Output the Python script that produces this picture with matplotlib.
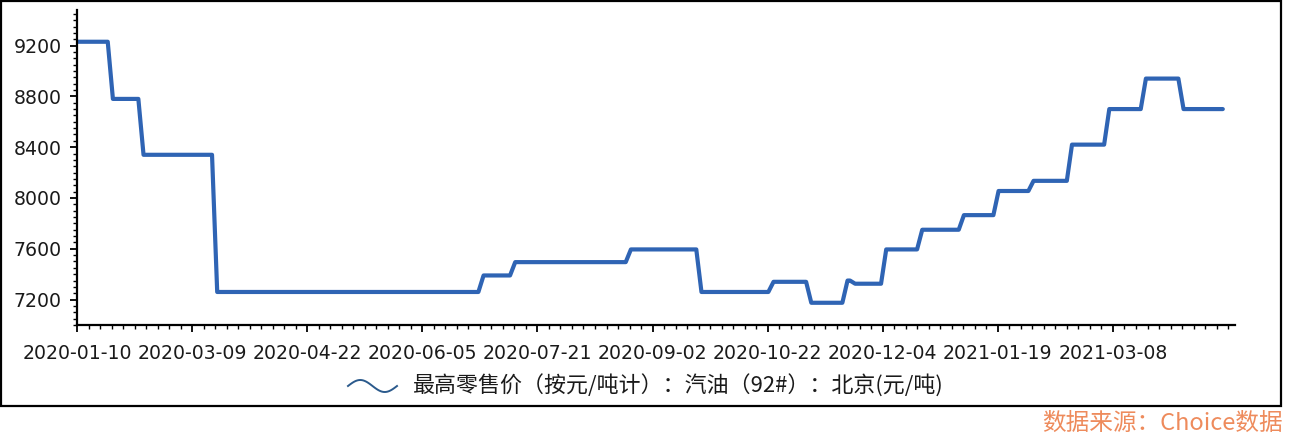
# -*- coding: utf-8 -*-
# 北京92#汽油最高零售价走势（2020-01 ~ 2021-03）

import numpy as np
import matplotlib
matplotlib.use('Agg')
import matplotlib.pyplot as plt
from matplotlib.ticker import MultipleLocator, FixedLocator
from matplotlib.patches import Rectangle
from matplotlib.lines import Line2D
from matplotlib import rcParams

config = {
    "font.family": ['DejaVu Sans', 'Noto Sans CJK SC'],
    "font.size": 13,
    "axes.unicode_minus": False,
}
rcParams.update(config)

# ---------------- 数据 ----------------
# 横轴按序号排列，刻度标签每10个序号一个
tick_labels = ['2020-01-10', '2020-03-09', '2020-04-22', '2020-06-05', '2020-07-21',
               '2020-09-02', '2020-10-22', '2020-12-04', '2021-01-19', '2021-03-08']
tick_pos = [0, 10, 20, 30, 40, 50, 60, 70, 80, 90]

start_price = 9230          # 起始价格 (元/吨)
# 每次调价的位置（序号）和调价后的价格
chg_pos = [2.67, 5.33, 11.73, 34.87, 37.62, 47.67, 53.80, 60.06, 63.34, 66.49,
           67.15, 69.85, 72.98, 76.60, 79.61, 82.65, 85.99, 89.23, 92.41, 95.68]
chg_price = [8780, 8340, 7260, 7390, 7495, 7595, 7260, 7340, 7175, 7350,
             7325, 7595, 7750, 7865, 8055, 8135, 8420, 8700, 8940, 8700]
end_pos = 99.54

series_name = '最高零售价（按元/吨计）：汽油（92#）：北京(元/吨)'
source_text = '数据来源：Choice数据'

line_color = '#2f64b4'

# 把调价点展开成折线顶点（每次调价约0.45个序号内完成）
ramp = 0.45
xs = [0]
ys = [start_price]
for p, v in zip(chg_pos, chg_price):
    prev = ys[-1]
    xs += [p, p + ramp]
    ys += [prev, v]
xs.append(end_pos)
ys.append(ys[-1])

# ---------------- 画图 ----------------
W, H = 1290, 438
fig = plt.figure(figsize=(W / 100, H / 100), dpi=100, facecolor='white')
ax = fig.add_axes([77 / W, 1 - 325 / H, (1235 - 77) / W, (325 - 10) / H])
ax.set_facecolor('none')

ax.plot(xs, ys, color=line_color, lw=3.0, solid_joinstyle='round',
        solid_capstyle='round')

ax.set_xlim(0, 100.6)
ax.set_ylim(7000, 9480)

ax.xaxis.set_major_locator(FixedLocator(tick_pos))
ax.set_xticklabels(tick_labels)
ax.xaxis.set_minor_locator(MultipleLocator(1))
ax.yaxis.set_major_locator(FixedLocator(np.arange(7200, 9201, 400)))
ax.yaxis.set_minor_locator(MultipleLocator(50))

for s in ['top', 'right']:
    ax.spines[s].set_visible(False)
for s in ['left', 'bottom']:
    ax.spines[s].set_linewidth(1.6)
    ax.spines[s].set_color('black')

ax.tick_params(axis='both', which='major', direction='out', length=5, width=1.3,
               colors='black', labelcolor='#1a1a1a', labelsize=13.6)
ax.tick_params(axis='both', which='minor', direction='out', length=3, width=1.0,
               colors='black')
ax.tick_params(axis='x', which='major', pad=9)
ax.tick_params(axis='y', which='major', pad=6)

# 图例（波浪线 + 文字）
t = np.linspace(0, 2 * np.pi, 80)
wx = (348 + 49 * t / (2 * np.pi)) / W
wy = 1 - (386 - 6 * np.sin(t)) / H
fig.add_artist(Line2D(wx, wy, color='#2b5a8c', lw=1.4, transform=fig.transFigure))
fig.text(413 / W, 1 - 386 / H, series_name, fontsize=15.8, va='center', ha='left',
         color='#1a1a1a', family=['Noto Sans CJK SC', 'DejaVu Sans'])

# 外框
fig.add_artist(Rectangle((1 / W, 1 - 406 / H), 1280 / W, 405 / H, fill=False,
                         edgecolor='black', lw=1.6, transform=fig.transFigure))

# 数据来源
fig.text(1283 / W, 1 - 423 / H, source_text, fontsize=17, ha='right', va='center',
         color='#ee8b5c', family=['Noto Sans CJK SC', 'DejaVu Sans'])

plt.savefig('out.png', dpi=100)
plt.close()
